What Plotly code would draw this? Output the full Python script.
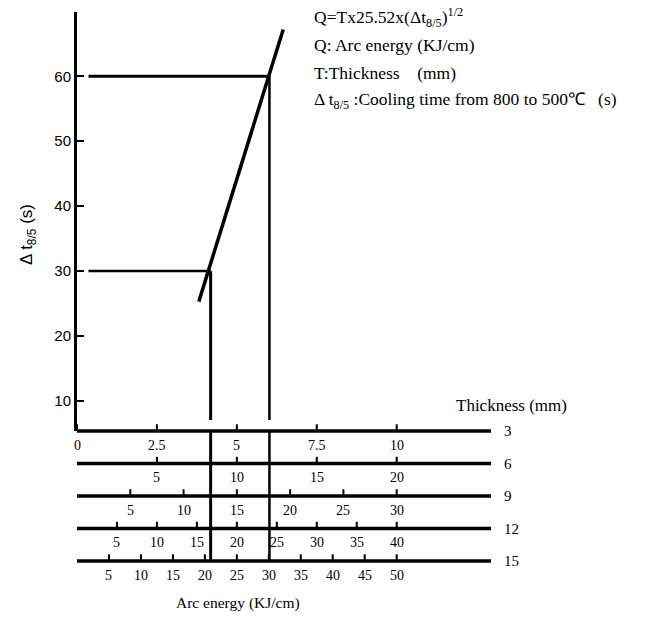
import plotly.graph_objects as go

# ---------------- data ----------------
cooling_times = [30, 60]                 # Δt8/5 (s) read-off lines
arc_energy_t3 = [4.18, 6.02]             # matching points on the T=3 scale
curve_x = [3.81, 6.45]                   # straight guide line (T=3 scale)
curve_y = [25.3, 67.2]                   # Δt8/5 (s)
y_ticks = [10, 20, 30, 40, 50, 60]

thickness = [3, 6, 9, 12, 15]
ticks_t3 = [0, 2.5, 5, 7.5, 10]
ticks_t6 = [5, 10, 15, 20]
ticks_t9 = [5, 10, 15, 20, 25, 30]
ticks_t12 = [5, 10, 15, 20, 25, 30, 35, 40]
ticks_t15 = [5, 10, 15, 20, 25, 30, 35, 40, 45, 50]
tick_labels_t3 = ["0", "2.5", "5", "7.5", "10"]
row_ticks = [ticks_t3, ticks_t6, ticks_t9, ticks_t12, ticks_t15]

# ---------------- layout geometry ----------------
W, H = 659, 622
L, R, T, B = 77, 168, 12, 56
PW, PH = W - L - R, H - T - B
X_MAX = 12.95
Y_MIN, Y_MAX = 5.38, 69.9
Y2_RANGE = [15.46, 1.985]


def fx(px):
    return (px - L) / PW


def fy(py):
    return (H - B - py) / PH


SERIF = "Liberation Serif, Times New Roman, serif"
SANS = "Liberation Sans, Arial, sans-serif"

fig = go.Figure()

# horizontal read-off lines
h_widths = [2.5, 3]
for dt, xe, w in zip(cooling_times, arc_energy_t3, h_widths):
    fig.add_trace(go.Scatter(x=[0.36, xe], y=[dt, dt], mode="lines",
                             line=dict(color="black", width=w), hoverinfo="skip"))

# vertical read-down lines (upper part & nomogram part)
v_widths = [3, 2.5]
for dt, xe, w in zip(cooling_times, arc_energy_t3, v_widths):
    fig.add_trace(go.Scatter(x=[xe, xe], y=[dt, Y_MIN], mode="lines",
                             line=dict(color="black", width=w), hoverinfo="skip"))
    fig.add_trace(go.Scatter(x=[xe, xe], y=[thickness[0], thickness[-1]], mode="lines",
                             yaxis="y2", line=dict(color="black", width=w), hoverinfo="skip"))

# sloped guide line
fig.add_trace(go.Scatter(x=curve_x, y=curve_y, mode="lines",
                         line=dict(color="black", width=3.5), hoverinfo="skip"))

# nomogram rows
annotations = []
for th, vals in zip(thickness, row_ticks):
    fig.add_trace(go.Scatter(x=[0, X_MAX], y=[th, th], mode="lines", yaxis="y2",
                             line=dict(color="black", width=3.5), hoverinfo="skip"))
    tx, ty = [], []
    for v in vals:
        xv = v * thickness[0] / th
        tx += [xv, xv, None]
        ty += [th, th - 0.62, None]
    fig.add_trace(go.Scatter(x=tx, y=ty, mode="lines", yaxis="y2",
                             line=dict(color="black", width=2), hoverinfo="skip"))
    for i, v in enumerate(vals):
        txt = tick_labels_t3[i] if th == thickness[0] else f"{v:g}"
        annotations.append(dict(x=v * thickness[0] / th, y=th, xref="x", yref="y2",
                                text=txt, showarrow=False, yshift=-14,
                                xanchor="center", yanchor="middle",
                                font=dict(family=SERIF, size=14, color="black")))
    annotations.append(dict(x=fx(502), y=th, xref="paper", yref="y2", text=str(th),
                            xanchor="left", yanchor="middle", showarrow=False,
                            font=dict(family=SERIF, size=15, color="black")))

# texts
annotations += [
    dict(x=fx(511), y=fy(405), xref="paper", yref="paper", text="Thickness (mm)",
         xanchor="center", yanchor="middle", showarrow=False,
         font=dict(family=SERIF, size=17, color="black")),
    dict(x=fx(238), y=fy(603), xref="paper", yref="paper", text="Arc energy (KJ/cm)",
         xanchor="center", yanchor="middle", showarrow=False,
         font=dict(family=SERIF, size=15.5, color="black")),
    dict(x=fx(28), y=fy(235), xref="paper", yref="paper", text="Δ t<sub>8/5</sub> (s)",
         xanchor="center", yanchor="middle", textangle=-90, showarrow=False,
         font=dict(family=SANS, size=17, color="black")),
]
info_lines = [
    "Q=Tx25.52x(Δt<sub>8/5</sub>)<sup>1/2</sup>",
    "Q: Arc energy (KJ/cm)",
    "T:Thickness\u00a0\u00a0\u00a0\u00a0(mm)",
    "Δ t<sub>8/5</sub> :Cooling time from 800 to 500℃\u00a0\u00a0\u00a0(s)",
]
info_y = [17, 45, 73, 100]
for txt, py in zip(info_lines, info_y):
    annotations.append(dict(x=fx(312), y=fy(py), xref="paper", yref="paper", text=txt,
                            xanchor="left", yanchor="middle", showarrow=False,
                            font=dict(family=SERIF, size=17.5, color="black")))

fig.update_layout(
    width=W, height=H, margin=dict(l=L, r=R, t=T, b=B),
    paper_bgcolor="white", plot_bgcolor="white", showlegend=False,
    xaxis=dict(range=[0, X_MAX], visible=False, fixedrange=True),
    yaxis=dict(domain=[fy(431), 1], range=[Y_MIN, Y_MAX], showline=True,
               linecolor="black", linewidth=3, ticks="inside", ticklen=7,
               tickwidth=2, tickcolor="black", tickvals=y_ticks, showgrid=False,
               zeroline=False, tickfont=dict(family=SANS, size=15, color="black")),
    yaxis2=dict(domain=[0, fy(420)], range=Y2_RANGE, visible=False, anchor="x"),
    annotations=annotations,
)

fig.write_html("out.html")
